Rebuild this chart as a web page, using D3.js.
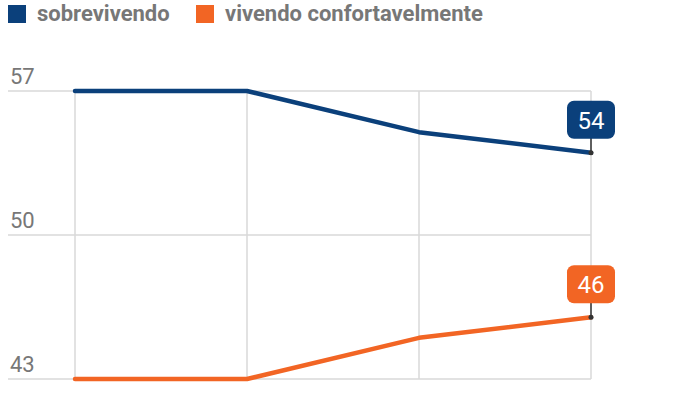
<!DOCTYPE html>
<html><head><meta charset="utf-8">
<script src="https://cdn.jsdelivr.net/npm/d3@7/dist/d3.min.js"></script>
<style>
body{margin:0;background:#fff;font-family:Roboto,"Open Sans",sans-serif;}
</style></head>
<body><svg id="c" width="700" height="400"></svg>
<script>
const categories = ["1", "2", "3", "4"];
const seriesNames = ["sobrevivendo", "vivendo confortavelmente"];
const sobrevivendo = [57, 57, 55, 54];
const confortavel = [43, 43, 45, 46];
const yTicks = [43, 50, 57];
const colors = ["#0b407b", "#f26524"];

const svg = d3.select("#c");
const x = d3.scalePoint().domain(categories).range([75, 591]);
const y = d3.scaleLinear().domain([43, 57]).range([379, 91]);

// horizontal grid
svg.append("g").selectAll("line").data(yTicks).join("line")
  .attr("x1", 8).attr("x2", x(categories[3]))
  .attr("y1", d => y(d)).attr("y2", d => y(d))
  .attr("stroke", "#d9d9d9").attr("stroke-width", 1.5);
// vertical grid
svg.append("g").selectAll("line").data(categories).join("line")
  .attr("x1", d => x(d)).attr("x2", d => x(d))
  .attr("y1", y(57)).attr("y2", y(43))
  .attr("stroke", "#d9d9d9").attr("stroke-width", 1.5);
// y labels
svg.append("g").selectAll("text").data(yTicks).join("text")
  .attr("x", 10).attr("y", d => y(d) - 7)
  .attr("fill", "#777").attr("font-size", 22)
  .text(d => d);

const series = [sobrevivendo, confortavel];
const line = d3.line().x((d, i) => x(categories[i])).y(d => y(d));
series.forEach((s, k) => {
  svg.append("path").datum(s).attr("d", line)
    .attr("fill", "none").attr("stroke", colors[k]).attr("stroke-width", 4.5)
    .attr("stroke-linecap", "round").attr("stroke-linejoin", "round");
  const lx = x(categories[3]), ly = y(s[3]);
  svg.append("line").attr("x1", lx).attr("x2", lx).attr("y1", ly).attr("y2", ly - 20)
    .attr("stroke", "#333").attr("stroke-width", 1.5);
  svg.append("circle").attr("cx", lx).attr("cy", ly).attr("r", 2.5).attr("fill", "#333");
  svg.append("rect").attr("x", lx - 24).attr("y", ly - 52).attr("width", 48).attr("height", 38)
    .attr("rx", 7).attr("fill", colors[k]);
  svg.append("text").attr("x", lx).attr("y", ly - 24).attr("text-anchor", "middle")
    .attr("fill", "#fff").attr("font-size", 24).text(s[3]);
});

// legend
const lg = svg.append("g");
let lxPos = [8, 196];
seriesNames.forEach((n, k) => {
  lg.append("rect").attr("x", lxPos[k]).attr("y", 5).attr("width", 18).attr("height", 18).attr("fill", colors[k]);
  lg.append("text").attr("x", lxPos[k] + 29).attr("y", 21).attr("font-size", 22).attr("font-weight", "bold")
    .attr("fill", "#777").text(n);
});
</script></body></html>
